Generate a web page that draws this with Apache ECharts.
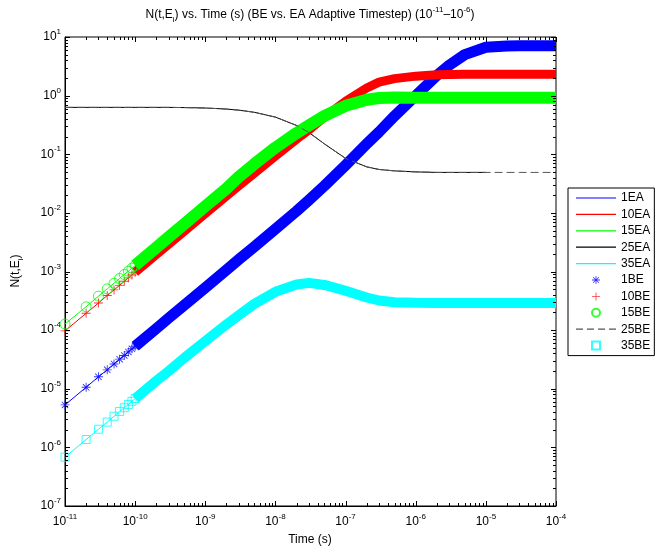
<!DOCTYPE html>
<html>
<head>
<meta charset="utf-8">
<script src="https://cdn.jsdelivr.net/npm/echarts@6/dist/echarts.min.js"></script>
<style>html,body{margin:0;padding:0;background:#fff}#c{width:655px;height:548px}</style>
</head>
<body>
<div id="c"></div>
<script>
// ---- data ----
const times = [1e-11,2e-11,3e-11,4e-11,5e-11,6e-11,7e-11,8e-11,9e-11,1e-10,2e-10,3e-10,5e-10,1e-9,2e-9,3e-9,5e-9,1e-8,2e-8,3e-8,5e-8,1e-7,2e-7,3e-7,5e-7,1e-6,2e-6,3e-6,5e-6,1e-5,2e-5,3e-5,5e-5,1e-4];
const n1  = [5.3e-6,1.06e-5,1.6e-5,2.1e-5,2.65e-5,3.2e-5,3.7e-5,4.25e-5,4.8e-5,5.3e-5,1.06e-4,1.6e-4,2.65e-4,5.3e-4,1.06e-3,1.6e-3,2.65e-3,5.3e-3,1.07e-2,1.65e-2,2.9e-2,6.5e-2,0.15,0.24,0.45,1.0,2.2,3.3,5.0,6.7,7.05,7.1,7.1,7.1];
const n10 = [9.7e-5,1.94e-4,2.9e-4,3.9e-4,4.85e-4,5.8e-4,6.8e-4,7.8e-4,8.7e-4,9.7e-4,1.94e-3,2.9e-3,4.85e-3,9.7e-3,1.93e-2,2.9e-2,4.75e-2,9.3e-2,0.18,0.26,0.43,0.8,1.35,1.7,1.95,2.15,2.27,2.3,2.32,2.32,2.32,2.32,2.32,2.32];
const n15 = [1.27e-4,2.5e-4,3.8e-4,5.05e-4,6.3e-4,7.6e-4,8.9e-4,1.01e-3,1.14e-3,1.27e-3,2.55e-3,3.85e-3,6.4e-3,1.3e-2,2.6e-2,4.1e-2,6.8e-2,0.13,0.23,0.31,0.45,0.67,0.85,0.91,0.93,0.92,0.92,0.92,0.92,0.92,0.92,0.92,0.92,0.92];
const n25 = [0.63,0.63,0.63,0.63,0.63,0.63,0.63,0.63,0.63,0.63,0.63,0.63,0.625,0.615,0.59,0.565,0.52,0.43,0.31,0.235,0.15,0.085,0.061,0.055,0.052,0.05,0.049,0.049,0.049,0.049,0.049,0.049,0.049,0.049];
const n35 = [6.8e-7,1.36e-6,2.04e-6,2.7e-6,3.4e-6,4.1e-6,4.75e-6,5.4e-6,6.1e-6,6.8e-6,1.36e-5,2.0e-5,3.35e-5,6.5e-5,1.25e-4,1.8e-4,2.8e-4,4.5e-4,6.0e-4,6.4e-4,5.9e-4,4.7e-4,3.6e-4,3.2e-4,3.0e-4,2.92e-4,2.9e-4,2.9e-4,2.9e-4,2.9e-4,2.9e-4,2.9e-4,2.9e-4,2.9e-4];
const eaEnd = 1e-5;          // EA curves stop here
const markerEnd = 1e-10;     // individual BE markers visible up to here
const xTicks = [1e-11,1e-10,1e-9,1e-8,1e-7,1e-6,1e-5,1e-4];
const yTicks = [1e-7,1e-6,1e-5,1e-4,1e-3,1e-2,1e-1,1e0,1e1];
const eaNames = ['1EA','10EA','15EA','25EA','35EA'];
const beNames = ['1BE','10BE','15BE','25BE','35BE'];
const colors = ['#0000ff','#ff0000','#00ff00','#000000','#00ffff'];
const allN = [n1,n10,n15,n25,n35];

// ---- helpers ----
const FF = 'Liberation Sans, Arial, Helvetica, sans-serif';
const X0 = 1e-11, X1 = 1e-4, Y0 = 1e-7, Y1 = 1e1;
function minorTicks(lo, hi){const r=[];for(let e=lo;e<hi;e++){for(let k=2;k<=9;k++)r.push(k*Math.pow(10,e));}return r;}
const xMinor = minorTicks(-11,-4);
const yMinor = minorTicks(-7,1);
const richNum = {
  b:{fontSize:12,lineHeight:20,fontFamily:FF,color:'#000'},
  s:{fontSize:8,lineHeight:10,padding:[0,0,10,0],fontFamily:FF,color:'#000'}
};
function expLabel(v){const e=Math.round(Math.log10(v));return '{b|10}{s|'+e+'}';}
function pairs(arr, lo, hi){const r=[];for(let i=0;i<times.length;i++){if(times[i]>=lo*0.9999999&&times[i]<=hi*1.0000001)r.push([times[i],arr[i]]);}return r;}

const star = 'path://M9,0H11V20H9Z M0,9H20V11H0Z M2.2,3.6L3.6,2.2L17.8,16.4L16.4,17.8Z M16.4,2.2L17.8,3.6L3.6,17.8L2.2,16.4Z';
const plus = 'path://M9,0H11V20H9Z M0,9H20V11H0Z';
const square = 'path://M0,0H10V10H0Z';
const markerDefs = [
  {symbol:star,size:9,itemStyle:{color:'#0000ff'}},
  {symbol:plus,size:9,itemStyle:{color:'#ff0000'}},
  {symbol:'circle',size:10,itemStyle:{color:'rgba(0,0,0,0)',borderColor:'#00ff00',borderWidth:1}},
  null,
  {symbol:square,size:8,itemStyle:{color:'rgba(0,0,0,0)',borderColor:'#00ffff',borderWidth:1}}
];
const bandWidth = [11,9,12,0,10];

const series = [];
// EA lines
for(let i=0;i<5;i++){
  series.push({name:eaNames[i],type:'line',data:pairs(allN[i],X0,eaEnd),symbol:'none',showSymbol:false,
    color:colors[i],lineStyle:{color:colors[i],width:1},silent:true,z:2});
}
// BE series
for(let i=0;i<5;i++){
  if(i===3){
    series.push({name:beNames[i],type:'line',data:pairs(allN[i],X0,X1),symbol:'none',showSymbol:false,
      color:'#555',lineStyle:{color:'#555',width:1,type:[8,4]},silent:true,z:3});
    continue;
  }
  series.push({name:beNames[i]+' band',type:'line',data:pairs(allN[i],markerEnd,X1),symbol:'none',showSymbol:false,
    color:colors[i],lineStyle:{color:colors[i],width:bandWidth[i],cap:'butt',join:'round'},clip:false,silent:true,z:3});
  const m = markerDefs[i];
  series.push({name:beNames[i],type:'scatter',data:pairs(allN[i],X0,markerEnd),symbol:m.symbol,symbolSize:m.size,
    color:colors[i],itemStyle:m.itemStyle,clip:false,silent:true,z:3});
}
// axis ticks (MATLAB style, inside, on all four sides)
const xTickData = xTicks.map(v=>[v,Y0,1]).concat(xMinor.map(v=>[v,Y0,0]));
const yTickData = yTicks.map(v=>[X0,v,1]).concat(yMinor.map(v=>[X0,v,0]));
series.push({name:'xticks',type:'custom',data:xTickData,clip:false,silent:true,z:6,
  renderItem:function(p,api){const v=api.value(0),len=api.value(2)?5:3;const b=api.coord([v,Y0]),t=api.coord([v,Y1]);const x=Math.round(b[0])+0.5;
    return {type:'group',children:[
      {type:'line',shape:{x1:x,y1:b[1],x2:x,y2:b[1]-len},style:{stroke:'#000',lineWidth:1}},
      {type:'line',shape:{x1:x,y1:t[1],x2:x,y2:t[1]+len},style:{stroke:'#000',lineWidth:1}}]};}});
series.push({name:'yticks',type:'custom',data:yTickData,clip:false,silent:true,z:6,
  renderItem:function(p,api){const v=api.value(1),len=api.value(2)?5:3;const l=api.coord([X0,v]),r=api.coord([X1,v]);const y=Math.round(l[1])+0.5;
    return {type:'group',children:[
      {type:'line',shape:{x1:l[0],y1:y,x2:l[0]+len,y2:y},style:{stroke:'#000',lineWidth:1}},
      {type:'line',shape:{x1:r[0],y1:y,x2:r[0]-len,y2:y},style:{stroke:'#000',lineWidth:1}}]};}});

const lineIcon = 'path://M0,0H40V1.2H0Z';
const dashIcon = 'path://M0,0H7V1.2H0Z M11,0H18V1.2H11Z M22,0H29V1.2H22Z M33,0H40V1.2H33Z';
const legendData = eaNames.map(n=>({name:n,icon:lineIcon})).concat(beNames.map(n=>n==='25BE'?{name:n,icon:dashIcon}:{name:n}));

const option = {
  animation:false,
  backgroundColor:'#fff',
  grid:{left:65,right:99,top:37,bottom:42,containLabel:false,outerBoundsMode:'none',show:true,borderColor:'#000',borderWidth:1,backgroundColor:'rgba(0,0,0,0)'},
  xAxis:{type:'log',logBase:10,min:X0,max:X1,position:'bottom',
    axisLine:{show:true,onZero:false,lineStyle:{color:'#000',width:1}},axisTick:{show:false},
    axisLabel:{show:true,customValues:xTicks,formatter:expLabel,rich:richNum,margin:6},
    splitLine:{show:false},minorTick:{show:false}},
  yAxis:{type:'log',logBase:10,min:Y0,max:Y1,position:'left',
    axisLine:{show:true,onZero:false,lineStyle:{color:'#000',width:1}},axisTick:{show:false},
    axisLabel:{show:true,customValues:yTicks,formatter:expLabel,rich:richNum,margin:4},
    splitLine:{show:false},minorTick:{show:false}},
  legend:{orient:'vertical',left:568,top:188,padding:[3,4,3,8],itemWidth:40,itemHeight:8,itemGap:2.4,
    borderColor:'#000',borderWidth:1,borderRadius:0,backgroundColor:'#fff',selectedMode:false,symbolKeepAspect:true,
    textStyle:{fontSize:12,lineHeight:14,color:'#000',fontFamily:FF},data:legendData},
  graphic:[
    {type:'text',x:310,y:15,style:{text:'{t|N(t,E}{sub|i}{t|) vs. Time (s) (BE vs. EA Adaptive Timestep) (10}{sup|-11}{t|\u201310}{sup|-6}{t|)}',
      align:'center',verticalAlign:'middle',
      rich:{t:{fontSize:12,lineHeight:20,fontFamily:FF,fill:'#000'},
            sub:{fontSize:8,lineHeight:10,padding:[10,0,0,0],fontFamily:FF,fill:'#000'},
            sup:{fontSize:8,lineHeight:10,padding:[0,0,10,0],fontFamily:FF,fill:'#000'}}}},
    {type:'text',x:310,y:540,style:{text:'Time (s)',align:'center',verticalAlign:'middle',fontSize:12,fontFamily:FF,fill:'#000'}},
    {type:'text',x:16,y:271,rotation:Math.PI/2,style:{text:'{t|N(t,E}{sub|i}{t|)}',align:'center',verticalAlign:'middle',
      rich:{t:{fontSize:12,lineHeight:20,fontFamily:FF,fill:'#000'},
            sub:{fontSize:8,lineHeight:10,padding:[10,0,0,0],fontFamily:FF,fill:'#000'}}}}
  ],
  series:series
};
const chart = echarts.init(document.getElementById('c'),null,{renderer:'canvas'});
chart.setOption(option);
</script>
</body>
</html>
